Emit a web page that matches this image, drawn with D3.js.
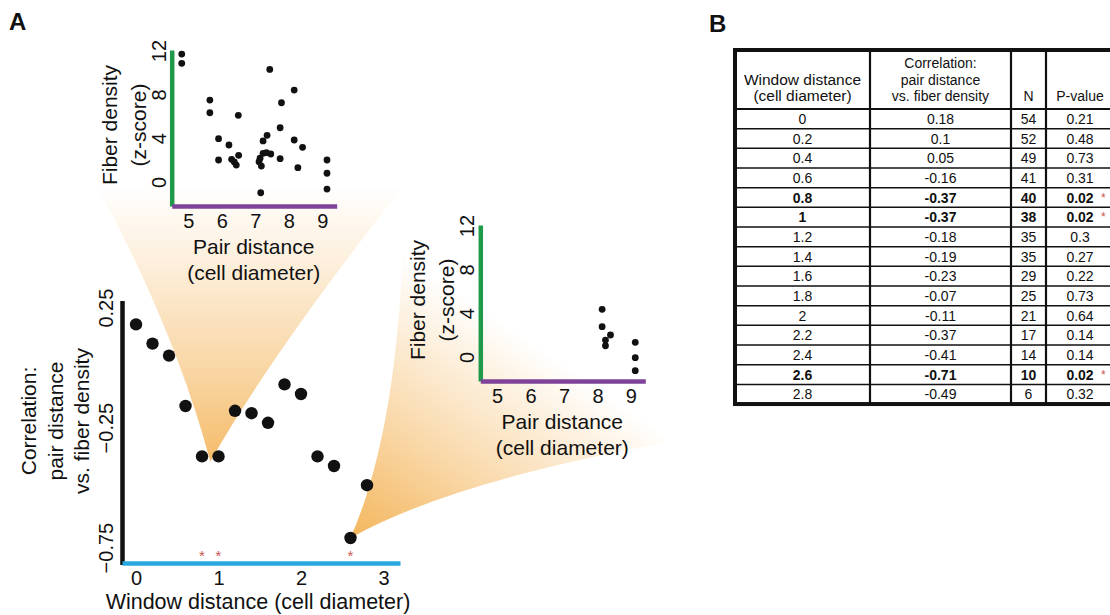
<!DOCTYPE html>
<html>
<head>
<meta charset="utf-8">
<script src="https://cdn.jsdelivr.net/npm/d3@7"></script>
<style>
  html, body { margin: 0; padding: 0; background: #fff; }
  svg { display: block; font-family: "Liberation Sans", Arial, Helvetica, sans-serif; }
</style>
</head>
<body>
<svg id="fig" width="1110" height="615"></svg>
<script>
// ---- data -------------------------------------------------------------
// Sliding-window summary: window distance (cell diameter), correlation of
// pair distance vs. fiber density, number of pairs and p-value.
const windowDistance = [0, 0.2, 0.4, 0.6, 0.8, 1, 1.2, 1.4, 1.6, 1.8, 2, 2.2, 2.4, 2.6, 2.8];
const correlation    = [0.18, 0.1, 0.05, -0.16, -0.37, -0.37, -0.18, -0.19, -0.23, -0.07, -0.11, -0.37, -0.41, -0.71, -0.49];
const pairCount      = [54, 52, 49, 41, 40, 38, 35, 35, 29, 25, 21, 17, 14, 10, 6];
const pValue         = [0.21, 0.48, 0.73, 0.31, 0.02, 0.02, 0.3, 0.27, 0.22, 0.73, 0.64, 0.14, 0.14, 0.02, 0.32];

const mainXTicks = [0, 1, 2, 3];
const mainYTicks = [0.25, -0.25, -0.75];
const insetXTicks = [5, 6, 7, 8, 9];
const insetYTicks = [0, 4, 8, 12];

// Pairs in the window around 1 cell diameter
const pairDistanceNear = [4.80, 4.80, 7.43, 8.16, 5.64, 7.78, 5.64, 6.49, 7.74, 5.90, 7.35, 7.23, 8.16, 6.21, 8.41, 5.90,
                          6.29, 6.50, 6.43, 6.37, 7.23, 7.33, 7.46, 7.14, 7.11, 7.18, 7.74, 8.27, 9.14, 9.14, 9.14, 7.16];
const fiberDensityNear = [11.68, 10.83, 10.28, 8.39, 7.48, 7.23, 6.32, 6.08, 4.95, 3.95, 4.26, 3.74, 3.83, 3.37, 3.16, 2.0,
                          2.06, 2.43, 1.54, 1.82, 2.61, 2.67, 2.55, 2.16, 1.84, 1.45, 2.12, 1.30, 2.0, 0.79, -0.65, -0.99];

// Pairs in the window around 2.6 cell diameters
const pairDistanceFar = [8.14, 8.14, 8.39, 8.24, 8.24, 9.13, 9.13, 9.13];
const fiberDensityFar = [4.35, 2.76, 2.0, 1.54, 1.02, 1.33, -0.07, -1.26];

const tableHeaders = [
  ["Window distance", "(cell diameter)"],
  ["Correlation:", "pair distance", "vs. fiber density"],
  ["N"],
  ["P-value"]
];

// ---- styling ----------------------------------------------------------
const INK = "#111";
const GREEN = "#1f9a4b";
const PURPLE = "#7e4399";
const BLUE = "#29a8df";
const STAR = "#c9564e";
const CONE = "#f2a940";
const LABEL_SIZE = 21;
const TICK_SIZE = 20;

const svg = d3.select("#fig");
const defs = svg.append("defs");

// ---- main chart scales -------------------------------------------------
const x = d3.scaleLinear().domain([-0.17, 3.2]).range([122, 400]);
const y = d3.scaleLinear().domain([-0.82, 0.28]).range([564.4, 300.4]);

// ---- zoom cones (drawn first, behind everything) -----------------------
const tip1 = [x((windowDistance[4] + windowDistance[5]) / 2), y(correlation[4]) + 5];
const tip2 = [x(windowDistance[13]), y(correlation[13])];

function coneGradient(id, x1, y1, x2, y2, stops) {
  const g = defs.append("linearGradient")
    .attr("id", id).attr("gradientUnits", "userSpaceOnUse")
    .attr("x1", x1).attr("y1", y1).attr("x2", x2).attr("y2", y2);
  stops.forEach(([o, a]) => g.append("stop").attr("offset", o).attr("stop-color", CONE).attr("stop-opacity", a));
}
coneGradient("cone1", 0, 185, 0, tip1[1], [[0, 0], [0.3, 0.2], [0.7, 0.5], [1, 0.78]]);
coneGradient("cone2", tip2[0], tip2[1], 500, 320, [[0, 0.85], [0.45, 0.45], [1, 0]]);

const c1 = d3.path();
c1.moveTo(98, 188);
c1.quadraticCurveTo(175, 330, tip1[0], tip1[1]);
c1.quadraticCurveTo(274, 350, 402, 188);
c1.closePath();
svg.append("path").attr("d", c1.toString()).attr("fill", "url(#cone1)");

const c2 = d3.path();
c2.moveTo(tip2[0], tip2[1]);
c2.quadraticCurveTo(450, 482, 664, 443);
c2.lineTo(664, 212);
c2.lineTo(404, 212);
c2.quadraticCurveTo(400, 425, tip2[0], tip2[1]);
c2.closePath();
svg.append("path").attr("d", c2.toString()).attr("fill", "url(#cone2)");

// ---- scatter insets ----------------------------------------------------
function drawInset(ox, oy, px, py) {
  const g = svg.append("g");
  const xs = d3.scaleLinear().domain([4.5, 9.43]).range([ox, ox + 165]);
  const ys = d3.scaleLinear().domain([-2.2, 12.05]).range([oy, oy - 156]);

  const yAxis = g.append("g").attr("transform", `translate(${ox},0)`)
    .call(d3.axisLeft(ys).tickValues(insetYTicks).tickSize(0).tickSizeOuter(0).tickFormat(d3.format("d")));
  yAxis.select(".domain").attr("stroke", GREEN).attr("stroke-width", 4.5);
  yAxis.selectAll(".tick text")
    .attr("transform", "rotate(-90)")
    .attr("x", 0).attr("y", -6).attr("dy", 0)
    .attr("text-anchor", "middle")
    .attr("font-size", TICK_SIZE).attr("font-family", null).attr("fill", INK);

  const xAxis = g.append("g").attr("transform", `translate(0,${oy})`)
    .call(d3.axisBottom(xs).tickValues(insetXTicks).tickSize(0).tickSizeOuter(0).tickFormat(d3.format("d")));
  xAxis.select(".domain").attr("stroke", PURPLE).attr("stroke-width", 4.5);
  xAxis.selectAll(".tick text")
    .attr("y", 22).attr("dy", 0)
    .attr("font-size", TICK_SIZE).attr("font-family", null).attr("fill", INK);

  const cy = oy - 81;
  [["Fiber density", ox - 55], ["(z-score)", ox - 26]].forEach(([t, bx]) => {
    g.append("text").attr("transform", `translate(${bx},${cy}) rotate(-90)`)
      .attr("text-anchor", "middle").attr("font-size", LABEL_SIZE).attr("fill", INK).text(t);
  });
  [["Pair distance", oy + 48], ["(cell diameter)", oy + 74]].forEach(([t, by]) => {
    g.append("text").attr("x", ox + 82).attr("y", by)
      .attr("text-anchor", "middle").attr("font-size", LABEL_SIZE).attr("fill", INK).text(t);
  });

  g.append("g").selectAll("circle").data(px).join("circle")
    .attr("cx", d => xs(d)).attr("cy", (d, i) => ys(py[i]))
    .attr("r", 3.4).attr("fill", INK);
}
drawInset(171.7, 206, pairDistanceNear, fiberDensityNear);
drawInset(480.3, 381, pairDistanceFar, fiberDensityFar);

// ---- main chart ---------------------------------------------------------
const main = svg.append("g");

const yAx = main.append("g").attr("transform", "translate(122,0)")
  .call(d3.axisLeft(y).tickValues(mainYTicks).tickSize(0).tickSizeOuter(0).tickFormat(d3.format(".2f")));
yAx.select(".domain").attr("stroke", INK).attr("stroke-width", 4.5);
yAx.selectAll(".tick text")
  .attr("transform", "rotate(-90)")
  .attr("x", 0).attr("y", -9).attr("dy", 0)
  .attr("text-anchor", "middle")
  .attr("font-size", TICK_SIZE).attr("font-family", null).attr("fill", INK);

const xAx = main.append("g").attr("transform", "translate(0,563)")
  .call(d3.axisBottom(x).tickValues(mainXTicks).tickSize(0).tickSizeOuter(0).tickFormat(d3.format("d")));
xAx.select(".domain").attr("stroke", BLUE).attr("stroke-width", 4.5);
xAx.selectAll(".tick text")
  .attr("y", 22).attr("dy", 0)
  .attr("font-size", TICK_SIZE).attr("font-family", null).attr("fill", INK);

main.append("text").attr("x", 258).attr("y", 609)
  .attr("text-anchor", "middle").attr("font-size", 21.5).attr("fill", INK)
  .text("Window distance (cell diameter)");

[["Correlation:", 36], ["pair distance", 63], ["vs. fiber density", 89]].forEach(([t, bx]) => {
  main.append("text").attr("transform", `translate(${bx},421) rotate(-90)`)
    .attr("text-anchor", "middle").attr("font-size", LABEL_SIZE).attr("fill", INK).text(t);
});

main.append("g").selectAll("circle").data(windowDistance).join("circle")
  .attr("cx", d => x(d)).attr("cy", (d, i) => y(correlation[i]))
  .attr("r", 6.2).attr("fill", INK);

// significance marks above the x axis
main.append("g").selectAll("text").data(windowDistance.filter((d, i) => pValue[i] < 0.05)).join("text")
  .attr("x", d => x(d)).attr("y", 561)
  .attr("text-anchor", "middle").attr("font-size", 15).attr("fill", STAR).text("*");

// ---- panel letters -------------------------------------------------------
svg.append("text").attr("x", 9).attr("y", 30).attr("font-size", 24).attr("font-weight", "bold").attr("fill", INK).text("A");
svg.append("text").attr("x", 709).attr("y", 32).attr("font-size", 24).attr("font-weight", "bold").attr("fill", INK).text("B");

// ---- table ------------------------------------------------------------------
const tbl = svg.append("g");
const colEdges = [735, 870, 1011, 1046, 1114];
const tTop = 50, headBottom = 109, rowH = 19.67;
const tBottom = headBottom + rowH * windowDistance.length;
const colMid = i => (colEdges[i] + colEdges[i + 1]) / 2;
const TABLE_FONT = 14;
const headerFont = [15.5, 14, 14, 14];

// row separators
windowDistance.forEach((d, i) => {
  const yy = headBottom + i * rowH;
  tbl.append("line").attr("x1", colEdges[0]).attr("x2", colEdges[4])
    .attr("y1", yy).attr("y2", yy).attr("stroke", INK).attr("stroke-width", i === 0 ? 2 : 1.5);
});
// column separators
colEdges.slice(1, 4).forEach(cx => {
  tbl.append("line").attr("x1", cx).attr("x2", cx).attr("y1", tTop).attr("y2", tBottom)
    .attr("stroke", INK).attr("stroke-width", 2.2);
});
// outer frame
tbl.append("rect").attr("x", colEdges[0]).attr("y", tTop)
  .attr("width", colEdges[4] - colEdges[0]).attr("height", tBottom - tTop)
  .attr("fill", "none").attr("stroke", INK).attr("stroke-width", 4);

// header text, bottom aligned
tableHeaders.forEach((lines, c) => {
  lines.forEach((t, k) => {
    tbl.append("text").attr("x", colMid(c)).attr("y", 101 - (lines.length - 1 - k) * 16.5)
      .attr("text-anchor", "middle").attr("font-size", headerFont[c]).attr("fill", INK).text(t);
  });
});

// body rows
windowDistance.forEach((d, i) => {
  const sig = pValue[i] < 0.05;
  const by = headBottom + i * rowH + rowH / 2 + 5;
  const cells = [String(d), String(correlation[i]), String(pairCount[i]), String(pValue[i])];
  cells.forEach((t, c) => {
    tbl.append("text").attr("x", colMid(c)).attr("y", by)
      .attr("text-anchor", "middle").attr("font-size", TABLE_FONT)
      .attr("font-weight", sig ? "bold" : "normal").attr("fill", INK).text(t);
  });
  if (sig) {
    tbl.append("text").attr("x", 1101).attr("y", by - 1)
      .attr("font-size", 12).attr("fill", STAR).text("*");
  }
});
</script>
</body>
</html>
